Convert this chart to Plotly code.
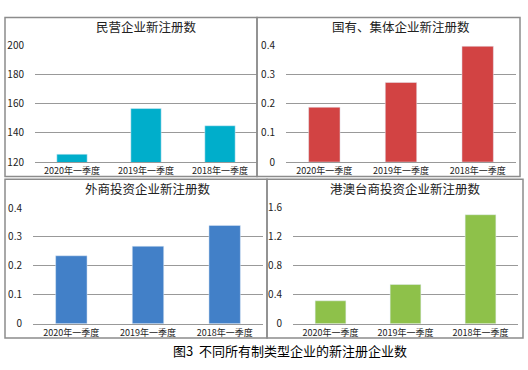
import plotly.graph_objects as go

categories = ["2020年一季度", "2019年一季度", "2018年一季度"]
private_vals = [125.4, 156.7, 144.9]
state_vals = [0.188, 0.273, 0.397]
foreign_vals = [0.235, 0.268, 0.340]
hkmt_vals = [0.315, 0.538, 1.495]

titles = ["民营企业新注册数", "国有、集体企业新注册数", "外商投资企业新注册数", "港澳台商投资企业新注册数"]
caption = "图3\u00a0\u00a0不同所有制类型企业的新注册企业数"
colors = ["#00AECB", "#D24343", "#4280C8", "#8EC14A"]

W, H = 528, 370
FONT = "Noto Sans CJK SC, Noto Sans, sans-serif"

def px_x(x):
    return x / W

def px_y(y):
    return 1 - y / H

panels = [
    dict(box=(5, 9, 257, 175), plot=(35, 257, 38, 160), rng=[120, 200], dtick=20, vals=private_vals),
    dict(box=(257, 9, 520, 175), plot=(286, 516, 38, 160), rng=[0, 0.4], dtick=0.1, vals=state_vals),
    dict(box=(5, 178, 267, 344), plot=(33, 263, 208, 329), rng=[0, 0.4], dtick=0.1, vals=foreign_vals),
    dict(box=(267, 178, 523, 344), plot=(293, 518, 207, 329), rng=[0, 1.6], dtick=0.4, vals=hkmt_vals),
]

fig = go.Figure()
shapes = []
annotations = []
layout_axes = {}
for i, p in enumerate(panels):
    n = "" if i == 0 else str(i + 1)
    xa, ya = "x" + n, "y" + n
    fig.add_trace(go.Bar(x=categories, y=p["vals"], marker_color=colors[i],
                         width=0.41, xaxis=xa, yaxis=ya, showlegend=False,
                         hoverinfo="x+y"))
    x0, x1, yt, yb = p["plot"]
    layout_axes["xaxis" + n] = dict(
        domain=[px_x(x0), px_x(x1)], anchor=ya, type="category",
        showgrid=False, showline=True, linecolor="#999999", linewidth=1,
        ticks="", tickfont=dict(size=9, color="#222222", family=FONT),
        fixedrange=True)
    layout_axes["yaxis" + n] = dict(
        domain=[px_y(yb), px_y(yt)], anchor=xa, range=p["rng"], dtick=p["dtick"],
        tick0=p["rng"][0], showgrid=True, gridcolor="#999999", gridwidth=1,
        zeroline=False, showline=False, ticks="", ticklabelstandoff=10,
        tickfont=dict(size=10, color="#222222", family=FONT), fixedrange=True)
    bx0, by0, bx1, by1 = p["box"]
    shapes.append(dict(type="rect", xref="paper", yref="paper",
                       x0=px_x(bx0), x1=px_x(bx1), y0=px_y(by1), y1=px_y(by0),
                       line=dict(color="#8c8c8c", width=1.5), fillcolor="rgba(0,0,0,0)",
                       layer="above"))
    annotations.append(dict(text=titles[i], xref="paper", yref="paper",
                            x=px_x((x0 + x1) / 2), y=px_y(by0 + 9.5),
                            xanchor="center", yanchor="middle", showarrow=False,
                            font=dict(size=12.5, color="#222222", family=FONT)))

annotations.append(dict(text=caption, xref="paper", yref="paper",
                        x=px_x(289.5), y=px_y(357), xanchor="center", yanchor="middle",
                        showarrow=False, font=dict(size=13, color="#000000", family=FONT)))

fig.update_layout(width=W, height=H, margin=dict(l=0, r=0, t=0, b=0),
                  paper_bgcolor="white", plot_bgcolor="white",
                  shapes=shapes, annotations=annotations, bargap=0.59,
                  font=dict(family=FONT), **layout_axes)

fig.write_html("out.html", config={"displayModeBar": False},
               post_script="document.body.style.margin='0';document.body.style.overflow='hidden';")
